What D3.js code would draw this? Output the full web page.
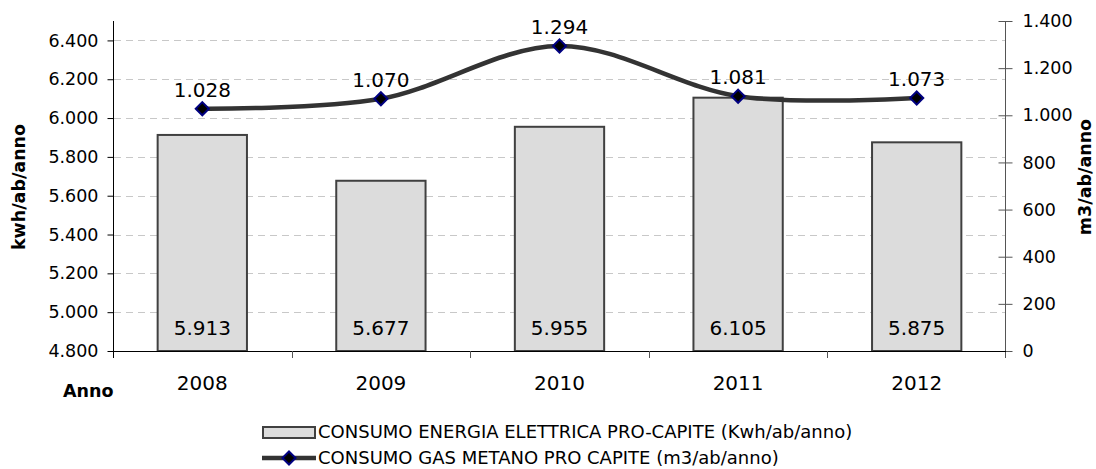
<!DOCTYPE html>
<html>
<head>
<meta charset="utf-8">
<script src="https://cdn.jsdelivr.net/npm/d3@7"></script>
<style>
  html, body { margin: 0; padding: 0; background: #fff; }
  svg { display: block; font-family: "DejaVu Sans", Verdana, sans-serif; }
</style>
</head>
<body>
<svg id="chart" width="1096" height="469"></svg>
<script>
// Years on the category axis
const years = ["2008", "2009", "2010", "2011", "2012"];
// Per-capita electricity consumption (kWh/ab/anno) – bars, left axis
const elettrica = [5913, 5677, 5955, 6105, 5875];
// Per-capita methane gas consumption (m3/ab/anno) – line, right axis
const gas = [1028, 1070, 1294, 1081, 1073];
// Axis ticks
const leftTicks = [4800, 5000, 5200, 5400, 5600, 5800, 6000, 6200, 6400];
const rightTicks = [0, 200, 400, 600, 800, 1000, 1200, 1400];
const legendLabels = [
  "CONSUMO ENERGIA ELETTRICA PRO-CAPITE (Kwh/ab/anno)",
  "CONSUMO GAS METANO PRO CAPITE (m3/ab/anno)"
];

const FONT = "'DejaVu Sans', Verdana, sans-serif";
// Italian number format: dot as thousands separator
const fmt = d3.formatLocale({ decimal: ",", thousands: ".", grouping: [3], currency: ["€", ""] }).format(",d");

const svg = d3.select("#chart");
const plot = { left: 113, right: 1006, top: 21, bottom: 351 };

const x = d3.scaleBand().domain(years).range([plot.left, plot.right]).paddingInner(0).paddingOuter(0);
const yL = d3.scaleLinear().domain([4800, 6500]).range([plot.bottom, plot.top]);
const yR = d3.scaleLinear().domain([0, 1400]).range([plot.bottom, plot.top]);

// Dashed gridlines at the left-axis ticks
svg.append("g")
  .selectAll("line")
  .data(leftTicks.filter(d => d > 4800))
  .join("line")
  .attr("x1", plot.left + 1).attr("x2", plot.right)
  .attr("y1", d => Math.round(yL(d)) + 0.5).attr("y2", d => Math.round(yL(d)) + 0.5)
  .attr("stroke", "#c8c8c8").attr("stroke-width", 1)
  .attr("stroke-dasharray", "7,5");

// Bars
const barW = x.bandwidth() * 0.5;
svg.append("g")
  .selectAll("rect")
  .data(years)
  .join("rect")
  .attr("x", (d) => x(d) + (x.bandwidth() - barW) / 2)
  .attr("y", (d, i) => yL(elettrica[i]))
  .attr("width", barW)
  .attr("height", (d, i) => plot.bottom - yL(elettrica[i]))
  .attr("fill", "#dcdcdc")
  .attr("stroke", "#404040")
  .attr("stroke-width", 2);

// Bar value labels near the base
svg.append("g")
  .selectAll("text")
  .data(years)
  .join("text")
  .attr("x", d => x(d) + x.bandwidth() / 2)
  .attr("y", plot.bottom - 16)
  .attr("text-anchor", "middle")
  .attr("font-size", 20)
  .attr("fill", "#000")
  .text((d, i) => fmt(elettrica[i]));

// Left axis
const axL = svg.append("g")
  .attr("transform", `translate(${plot.left + 0.5},0)`)
  .call(d3.axisLeft(yL).tickValues(leftTicks).tickFormat(fmt).tickSize(6).tickSizeOuter(0).tickPadding(9));
axL.select(".domain").attr("d", `M0,${plot.top}V${plot.bottom + 7}`).attr("stroke", "#000");
axL.selectAll(".tick line").attr("stroke", "#000");
axL.selectAll("text").attr("font-size", 17.5).attr("fill", "#000").attr("font-family", FONT);

// Right axis (ticks crossing the line)
const axR = svg.append("g")
  .attr("transform", `translate(${plot.right - 0.5},0)`)
  .call(d3.axisRight(yR).tickValues(rightTicks).tickFormat(fmt).tickSize(7).tickSizeOuter(0).tickPadding(10));
axR.select(".domain").attr("d", `M0,${plot.top}V${plot.bottom + 7}`).attr("stroke", "#555");
axR.selectAll(".tick line").attr("x1", -7).attr("stroke", "#555");
axR.selectAll("text").attr("font-size", 17.5).attr("fill", "#000").attr("font-family", FONT);

// Category axis
const axB = svg.append("g")
  .attr("transform", `translate(0,${plot.bottom + 0.5})`)
  .call(d3.axisBottom(x).tickSize(0).tickPadding(24));
axB.select(".domain").attr("d", `M${plot.left},0H${plot.right}`).attr("stroke", "#000");
axB.selectAll("text").attr("font-size", 20).attr("fill", "#000").attr("font-family", FONT);
// Dividers between categories
svg.append("g")
  .selectAll("line")
  .data(years.slice(1))
  .join("line")
  .attr("x1", d => Math.round(x(d)) + 0.5).attr("x2", d => Math.round(x(d)) + 0.5)
  .attr("y1", plot.bottom).attr("y2", plot.bottom + 7)
  .attr("stroke", "#555");

// Gas consumption line (smoothed)
const line = d3.line()
  .x((d, i) => x(years[i]) + x.bandwidth() / 2)
  .y(d => yR(d))
  .curve(d3.curveCardinal.tension(0));
svg.append("path")
  .datum(gas)
  .attr("d", line)
  .attr("fill", "none")
  .attr("stroke", "#333")
  .attr("stroke-width", 4.5)
  .attr("stroke-linejoin", "round");

const diamond = d3.symbol().type(d3.symbolDiamond2).size(110);
svg.append("g")
  .selectAll("path")
  .data(gas)
  .join("path")
  .attr("transform", (d, i) => `translate(${x(years[i]) + x.bandwidth() / 2},${yR(d)})`)
  .attr("d", diamond)
  .attr("fill", "#000")
  .attr("stroke", "#000080")
  .attr("stroke-width", 2);

svg.append("g")
  .selectAll("text")
  .data(gas)
  .join("text")
  .attr("x", (d, i) => x(years[i]) + x.bandwidth() / 2)
  .attr("y", d => yR(d) - 12)
  .attr("text-anchor", "middle")
  .attr("font-size", 20)
  .attr("fill", "#000")
  .text(d => fmt(d));

// Axis titles
svg.append("text")
  .attr("transform", "translate(25,187) rotate(-90)")
  .attr("text-anchor", "middle")
  .attr("font-size", 17.5).attr("font-weight", "bold")
  .text("kwh/ab/anno");
svg.append("text")
  .attr("transform", "translate(1091,177) rotate(-90)")
  .attr("text-anchor", "middle")
  .attr("font-size", 17.5).attr("font-weight", "bold")
  .text("m3/ab/anno");
svg.append("text")
  .attr("x", 63).attr("y", 397)
  .attr("font-size", 17.5).attr("font-weight", "bold")
  .text("Anno");

// Legend
const lg = svg.append("g");
lg.append("rect")
  .attr("x", 263).attr("y", 427).attr("width", 52).attr("height", 11)
  .attr("fill", "#dcdcdc").attr("stroke", "#404040").attr("stroke-width", 2);
lg.append("line")
  .attr("x1", 262).attr("x2", 316).attr("y1", 458).attr("y2", 458)
  .attr("stroke", "#333").attr("stroke-width", 4.5);
lg.append("path")
  .attr("transform", "translate(289,458)")
  .attr("d", diamond)
  .attr("fill", "#000").attr("stroke", "#000080").attr("stroke-width", 2);
lg.selectAll("text.leg")
  .data(legendLabels)
  .join("text")
  .attr("class", "leg")
  .attr("x", 318)
  .attr("y", (d, i) => 438 + i * 26)
  .attr("font-size", 18)
  .attr("fill", "#000")
  .text(d => d);
</script>
</body>
</html>
